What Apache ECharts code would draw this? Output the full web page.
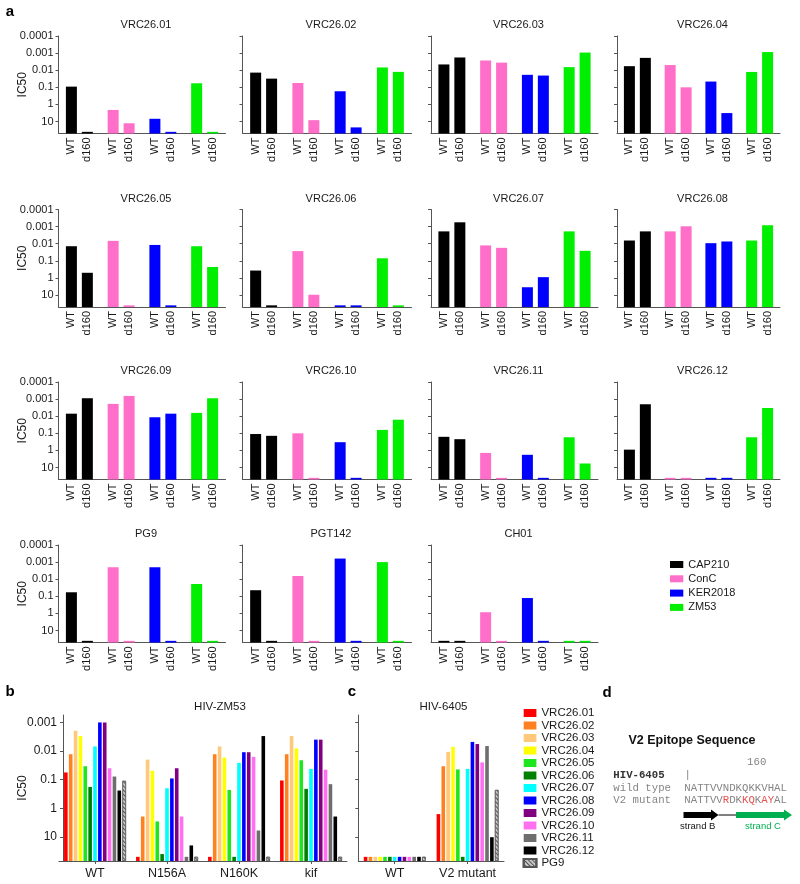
<!DOCTYPE html>
<html><head><meta charset="utf-8">
<script src="https://cdn.jsdelivr.net/npm/echarts@6/dist/echarts.min.js"></script>
<style>html,body{margin:0;padding:0;background:#fff}#chart{width:800px;height:884px}</style>
</head><body><div id="chart"></div>
<script>
// ---------------- DATA ----------------
const strains = ['CAP210', 'ConC', 'KER2018', 'ZM53'];
const antibodiesA = ['VRC26.01','VRC26.02','VRC26.03','VRC26.04','VRC26.05','VRC26.06','VRC26.07','VRC26.08','VRC26.09','VRC26.10','VRC26.11','VRC26.12','PG9','PGT142','CH01'];
// IC50 per antibody, order = strains (values of 40 = not neutralized, drawn as stub)
const wtIC50 = [
  [0.091, 2.1, 6.9, 0.058],
  [0.0138, 0.056, 0.17, 0.0069],
  [0.0046, 0.0027, 0.0186, 0.0066],
  [0.0058, 0.005, 0.046, 0.0126],
  [0.014, 0.0068, 0.0118, 0.014],
  [0.37, 0.027, 40, 0.071],
  [0.0019, 0.0126, 3.5, 0.0019],
  [0.0065, 0.0019, 0.0093, 0.0065],
  [0.0071, 0.0019, 0.0115, 0.0064],
  [0.11, 0.1, 0.33, 0.063],
  [0.16, 1.4, 1.8, 0.17],
  [0.9, 40, 40, 0.17],
  [0.058, 0.002, 0.002, 0.019],
  [0.044, 0.0065, 0.00062, 0.001],
  [40, 0.85, 0.126, 40]
];
const d160IC50 = [
  [40, 12.6, 40, 40],
  [0.031, 8.3, 22, 0.0125],
  [0.0018, 0.0036, 0.0205, 0.00093],
  [0.0019, 0.1, 3.2, 0.00087],
  [0.5, 40, 40, 0.23],
  [40, 9.6, 40, 40],
  [0.00056, 0.0174, 0.9, 0.026],
  [0.0019, 0.00096, 0.0074, 0.00083],
  [0.00089, 0.00065, 0.0071, 0.00089],
  [0.14, 40, 40, 0.016],
  [0.22, 40, 40, 5.8],
  [0.002, 40, 40, 0.0033],
  [40, 40, 40, 40],
  [40, 40, 40, 40],
  [40, 40, 40, 40]
];
const aTickLabels = ['0.0001', '0.001', '0.01', '0.1', '1', '10'];

const bCategories = ['WT', 'N156A', 'N160K', 'kif'];
const cCategories = ['WT', 'V2 mutant'];
const bSeriesNames = ['VRC26.01','VRC26.02','VRC26.03','VRC26.04','VRC26.05','VRC26.06','VRC26.07','VRC26.08','VRC26.09','VRC26.10','VRC26.11','VRC26.12','PG9'];
// HIV-ZM53 IC50 per category (order = bSeriesNames)
const bWT    = [0.056, 0.0129, 0.00195, 0.003, 0.034, 0.18, 0.0069, 0.001, 0.001, 0.04, 0.078, 0.24, 0.11];
const bN156A = [50, 1.95, 0.02, 0.049, 2.9, 40, 0.2, 0.091, 0.04, 1.95, 50, 20, 50];
const bN160K = [50, 0.0129, 0.0069, 0.017, 0.23, 50, 0.026, 0.011, 0.011, 0.016, 6, 0.003, 50];
const bKif   = [0.107, 0.0129, 0.003, 0.0081, 0.021, 0.21, 0.042, 0.004, 0.004, 0.045, 0.144, 1.95, 50];
// HIV-6405
const cWT = [50, 50, 50, 50, 50, 50, 50, 50, 50, 50, 50, 50, 50];
const cV2 = [1.6, 0.034, 0.0107, 0.0071, 0.044, 50, 0.042, 0.0048, 0.0057, 0.025, 0.0067, 10.3, 0.23];
const bTickLabels = ['0.001', '0.01', '0.1', '1', '10'];

// ---------------- STYLE / LAYOUT ----------------
const FONT = '"Liberation Sans", Arial, sans-serif';
const MONO = '"Liberation Mono", "DejaVu Sans Mono", monospace';
const AXIS = '#555';
const TXT = '#1a1a1a';
const strainColors = ['#000000', '#ff6ec8', '#0000ff', '#00ee00'];
const bColors = ['#ff0000','#ff8020','#ffc87a','#ffff00','#1ee61e','#008000','#00ffff','#0000ff','#800080','#ff70f0','#6e6e6e','#000000','#bbbbbb'];

const A_BOTTOM = 50, A_TOP = 0.0001;
const B_BOTTOM = 70, B_TOP = 0.00055;
const tA = v => Math.log10(A_BOTTOM / v);
const tB = v => Math.log10(B_BOTTOM / v);

const colLeft = [58.5, 242.5, 431, 617];
const colWidth = [167, 169, 167, 163];
const rowTop = [36, 209.5, 382, 545];
const A_H = 97.5;

const grid = [], xAxis = [], yAxis = [], series = [], graphic = [];
const aTickVals = aTickLabels.map(s => tA(parseFloat(s)));
const bTickVals = bTickLabels.map(s => tB(parseFloat(s)));
const fmt = (vals, labels) => v => { const i = vals.findIndex(t => Math.abs(t - v) < 1e-6); return i >= 0 ? labels[i] : ''; };

antibodiesA.forEach((ab, k) => {
  const r = Math.floor(k / 4), c = k % 4;
  grid.push({ left: colLeft[c], top: rowTop[r], width: colWidth[c], height: A_H });
  xAxis.push({
    gridIndex: k, type: 'category', data: strains,
    axisLine: { lineStyle: { color: AXIS, width: 1 } },
    axisTick: { show: false }, axisLabel: { show: false }
  });
  yAxis.push({
    gridIndex: k, type: 'value', min: 0, max: tA(A_TOP),
    axisLine: { show: true, lineStyle: { color: AXIS, width: 1 } },
    axisTick: { show: true, length: 3, customValues: aTickVals, lineStyle: { color: AXIS } },
    axisLabel: { show: c === 0, customValues: aTickVals, formatter: fmt(aTickVals, aTickLabels),
      fontSize: 11, fontFamily: FONT, color: TXT, margin: 5 },
    splitLine: { show: false },
    name: c === 0 ? 'IC50' : '', nameLocation: 'middle', nameGap: 29.5, nameMoveOverlap: false,
    nameTextStyle: { fontSize: 12, fontFamily: FONT, color: TXT }
  });
  [['WT', wtIC50[k]], ['d160', d160IC50[k]]].forEach(([nm, vals]) => {
    series.push({
      type: 'bar', name: nm, xAxisIndex: k, yAxisIndex: k,
      barWidth: 11, barGap: '45%',
      data: vals.map((v, j) => ({ value: tA(v), itemStyle: { color: strainColors[j] } })),
      label: { show: true, position: 'bottom', distance: 4, rotate: 90, align: 'right', verticalAlign: 'middle',
        formatter: nm, fontSize: 11, fontFamily: FONT, color: TXT },
      silent: true
    });
  });
  graphic.push({ type: 'text', x: colLeft[c] + colWidth[c] / 2 + 4, y: rowTop[r] - 11,
    style: { text: ab, fill: TXT, font: '11px ' + FONT, align: 'center', verticalAlign: 'middle' } });
});

// Panel b and c grids
const GB = 15, GC = 16, GH = 17;
const bTop = 715, bH = 146;
grid.push({ left: 59, top: bTop, width: 288, height: bH });
grid.push({ left: 358.3, top: bTop, width: 145.7, height: bH });
grid.push({ left: 0, top: 0, width: 1, height: 1, show: false });
[[GB, bCategories], [GC, cCategories]].forEach(([g, cats]) => {
  xAxis.push({
    gridIndex: g, type: 'category', data: cats,
    axisLine: { lineStyle: { color: AXIS, width: 1 } },
    axisTick: { show: true, alignWithLabel: true, length: 3, lineStyle: { color: AXIS } },
    axisLabel: { interval: 0, fontSize: 12.5, fontFamily: FONT, color: TXT, margin: 6 }
  });
  yAxis.push({
    gridIndex: g, type: 'value', min: 0, max: tB(B_TOP), offset: g === GB ? -4 : 0,
    axisLine: { show: true, lineStyle: { color: AXIS, width: 1 } },
    axisTick: { show: true, length: 3, customValues: bTickVals, lineStyle: { color: AXIS } },
    axisLabel: { show: g === GB, customValues: bTickVals, formatter: fmt(bTickVals, bTickLabels),
      fontSize: 12, fontFamily: FONT, color: TXT, margin: 6 },
    splitLine: { show: false },
    name: g === GB ? 'IC50' : '', nameLocation: 'middle', nameGap: 34, nameMoveOverlap: false,
    nameTextStyle: { fontSize: 12, fontFamily: FONT, color: TXT }
  });
});
xAxis.push({ gridIndex: GH, type: 'category', show: false, data: [''] });
yAxis.push({ gridIndex: GH, type: 'value', show: false });

const pg9Style = (i) => i === 12 ? {
  color: '#c8c8c8', borderColor: '#555', borderWidth: 0.6,
  decal: { symbol: 'rect', symbolSize: 1, color: '#555', dashArrayX: [1, 0], dashArrayY: [1, 2], rotation: Math.PI / 4 }
} : { color: bColors[i] };

bSeriesNames.forEach((nm, i) => {
  series.push({
    type: 'bar', name: nm, xAxisIndex: GB, yAxisIndex: GB, barWidth: 3.6, barGap: '35%',
    itemStyle: pg9Style(i),
    data: [bWT[i], bN156A[i], bN160K[i], bKif[i]].map(tB), silent: true
  });
  series.push({
    type: 'bar', name: nm, xAxisIndex: GC, yAxisIndex: GC, barWidth: 3.6, barGap: '35%',
    itemStyle: pg9Style(i),
    data: [cWT[i], cV2[i]].map(tB), silent: true
  });
});
strains.forEach((s, j) => {
  series.push({ type: 'bar', name: s, xAxisIndex: GH, yAxisIndex: GH, data: [], itemStyle: { color: strainColors[j] } });
});

// titles b, c
graphic.push({ type: 'text', x: 220, y: 706.5, style: { text: 'HIV-ZM53', fill: TXT, font: '11.5px ' + FONT, align: 'center', verticalAlign: 'middle' } });
graphic.push({ type: 'text', x: 443.5, y: 706.5, style: { text: 'HIV-6405', fill: TXT, font: '11.5px ' + FONT, align: 'center', verticalAlign: 'middle' } });
// panel letters
[['a', 10, 12], ['b', 10, 692], ['c', 352, 692], ['d', 607, 693]].forEach(([t, x, y]) => {
  graphic.push({ type: 'text', x, y, style: { text: t, fill: '#000', font: 'bold 15px ' + FONT, align: 'center', verticalAlign: 'middle' } });
});
// panel d
const seqGrey = '#858585';
const dTexts = [
  ['V2 Epitope Sequence', 692, 740.7, 'bold 12.5px ' + FONT, '#111', 'center'],
  ['160', 756.7, 761.7, '10.7px ' + MONO, seqGrey, 'center'],
  ['HIV-6405', 613.3, 775, 'bold 10.7px ' + MONO, '#333', 'left'],
  ['|', 687.7, 775, '10.7px ' + MONO, seqGrey, 'center'],
  ['wild type', 613.3, 787.7, '10.7px ' + MONO, seqGrey, 'left'],
  ['NATTVVNDKQKKVHAL', 684.3, 787.7, '10.7px ' + MONO, seqGrey, 'left'],
  ['V2 mutant', 613.3, 800, '10.7px ' + MONO, seqGrey, 'left'],
  ['strand B', 697.7, 826.7, '9.5px ' + FONT, '#111', 'center'],
  ['strand C', 763, 826.7, '9.5px ' + FONT, '#00b050', 'center']
];
dTexts.forEach(([t, x, y, f, col, al]) => {
  graphic.push({ type: 'text', x, y, style: { text: t, fill: col, font: f, align: al, verticalAlign: 'middle' } });
});
graphic.push({ type: 'text', x: 684.3, y: 800, style: {
  text: '{g|NATTVV}{r|R}{g|DK}{r|KQ}{g|K}{r|AY}{g|AL}', font: '10.7px ' + MONO, fill: seqGrey, verticalAlign: 'middle', align: 'left',
  rich: { g: { fill: seqGrey, font: '10.7px ' + MONO }, r: { fill: '#e8504f', font: '10.7px ' + MONO } } } });
graphic.push({ type: 'polygon', shape: { points: [[683.5,812],[711,812],[711,809.5],[718.5,815],[711,820.5],[711,818],[683.5,818]] }, style: { fill: '#000' } });
graphic.push({ type: 'line', shape: { x1: 718.5, y1: 815, x2: 736, y2: 815 }, style: { stroke: '#000', lineWidth: 1 } });
graphic.push({ type: 'polygon', shape: { points: [[736,812],[784,812],[784,809.5],[792,815],[784,820.5],[784,818],[736,818]] }, style: { fill: '#00b050' } });

const option = {
  animation: false,
  backgroundColor: '#fff',
  textStyle: { fontFamily: FONT },
  grid, xAxis, yAxis, series, graphic,
  legend: [
    { data: strains, orient: 'vertical', left: 670, top: 559, itemWidth: 13.3, itemHeight: 7, itemGap: 3.3,
      icon: 'rect', selectedMode: false, padding: 0, textStyle: { fontSize: 11, fontFamily: FONT, color: TXT } },
    { data: bSeriesNames, orient: 'vertical', left: 522.7, top: 707, itemWidth: 12.7, itemHeight: 8, itemGap: 0.5,
      icon: 'rect', selectedMode: false, padding: 0, textStyle: { fontSize: 11.5, fontFamily: FONT, color: TXT } }
  ]
};
const chart = echarts.init(document.getElementById('chart'), null, { renderer: 'canvas' });
chart.setOption(option);
</script>
</body></html>
